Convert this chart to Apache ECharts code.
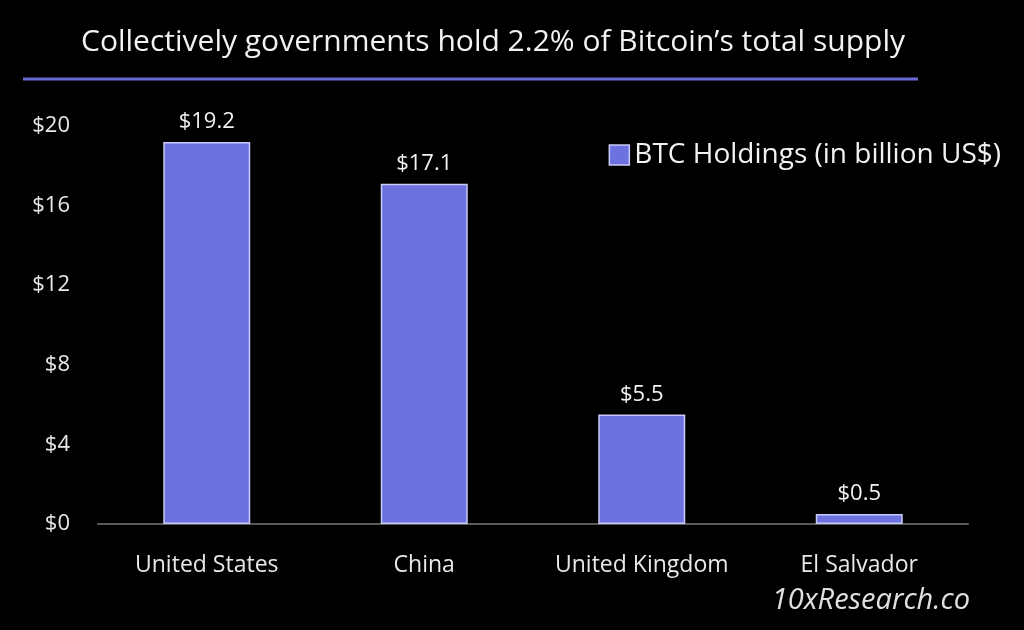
<!DOCTYPE html>
<html><head><meta charset="utf-8">
<script src="https://cdn.jsdelivr.net/npm/echarts@6/dist/echarts.min.js"></script>
<style>html,body{margin:0;padding:0;background:#000;}#c{width:1024px;height:630px;}</style>
</head><body><div id="c"></div>
<script>
const categories = ['United States', 'China', 'United Kingdom', 'El Salvador'];
const holdings = [19.2, 17.1, 5.5, 0.5];
const yTicks = { min: 0, max: 20, interval: 4 };
const seriesName = 'BTC Holdings (in billion US$)';
const titleText = 'Collectively governments hold 2.2% of Bitcoin\u2019s total supply';
const sourceText = '10xResearch.co';

const FONT = '"Open Sans", Lato, sans-serif';
const chart = echarts.init(document.getElementById('c'), null, {renderer: 'canvas'});
chart.setOption({
  backgroundColor: '#000',
  animation: false,
  title: {
    text: titleText, left: 488, textAlign: 'center', top: 22,
    textStyle: {color: '#f2f2f2', fontSize: 30, fontWeight: 'normal', fontFamily: FONT}
  },
  legend: {
    right: 18, top: 136, itemWidth: 20, itemHeight: 20, itemGap: 10,
    icon: 'rect',
    textStyle: {color: '#f2f2f2', fontSize: 28, fontFamily: FONT},
    data: [{name: seriesName, itemStyle: {borderColor: '#c9caf5', borderWidth: 1.5}}]
  },
  grid: {left: 98, right: 56, top: 126, bottom: 106, containLabel: false},
  xAxis: {
    type: 'category', data: categories,
    axisLine: {lineStyle: {color: '#5a5a5a', width: 2}},
    axisTick: {show: false},
    axisLabel: {color: '#e8e8e8', fontSize: 23, margin: 30, interval: 0, hideOverlap: false, fontFamily: FONT}
  },
  yAxis: {
    type: 'value', min: yTicks.min, max: yTicks.max, interval: yTicks.interval,
    splitLine: {show: false}, axisLine: {show: false}, axisTick: {show: false},
    axisLabel: {color: '#e8e8e8', fontSize: 22, margin: 28, fontFamily: FONT, formatter: v => '$' + v}
  },
  series: [{
    name: seriesName, type: 'bar', data: holdings, barWidth: 87,
    itemStyle: {color: '#6d72e0', borderColor: '#c9caf5', borderWidth: 1.5},
    label: {show: true, position: 'top', distance: 9, color: '#f2f2f2', fontSize: 22, fontFamily: FONT,
      formatter: p => '$' + p.value}
  }],
  graphic: [
    {type: 'rect', shape: {x: 23, y: 77.5, width: 895, height: 3}, style: {fill: '#6a6ad6'}},
    {type: 'text', right: 54, top: 586, style: {text: sourceText, fill: '#e0e0e0', fontSize: 29, fontStyle: 'italic', fontFamily: FONT}}
  ]
});
</script></body></html>
